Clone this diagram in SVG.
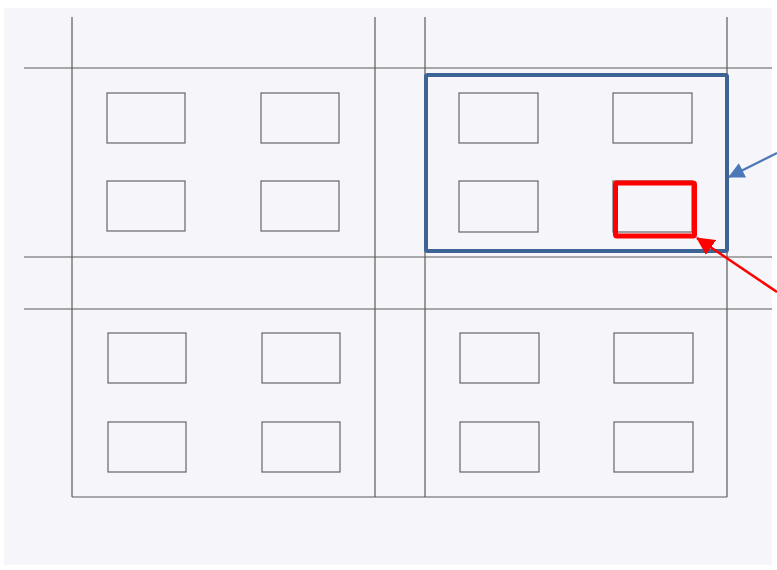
<svg xmlns="http://www.w3.org/2000/svg" width="777" height="570" viewBox="0 0 777 570">
<style>
.ln{stroke:#5a5a5a;stroke-width:1.2;fill:none}
.bx{stroke:#666;stroke-width:1.2;fill:none}
</style>
<defs>
<marker id="ab" markerUnits="userSpaceOnUse" markerWidth="16" markerHeight="16" refX="15" refY="8" orient="auto"><path d="M0,0 L16,8 L0,16 Z" fill="#4a78b8"/></marker>
<marker id="ar" markerUnits="userSpaceOnUse" markerWidth="18" markerHeight="18" refX="17" refY="9" orient="auto"><path d="M0,0 L18,9 L0,18 Z" fill="#ff0000"/></marker>
</defs>
<rect x="0" y="0" width="777" height="570" fill="#ffffff"/>
<rect x="4" y="8" width="768" height="557" fill="#f6f5f9"/>
<g id="grid">
<line class="ln" x1="72" y1="17" x2="72" y2="497"/>
<line class="ln" x1="375" y1="17" x2="375" y2="497"/>
<line class="ln" x1="425" y1="17" x2="425" y2="497"/>
<line class="ln" x1="727" y1="17" x2="727" y2="497"/>
<line class="ln" x1="24" y1="68" x2="772" y2="68"/>
<line class="ln" x1="24" y1="257" x2="772" y2="257"/>
<line class="ln" x1="24" y1="309" x2="772" y2="309"/>
<line class="ln" x1="72" y1="497" x2="727" y2="497"/>
</g>
<g id="b11"><rect class="bx" x="107" y="93" width="78" height="50"/></g>
<g id="b12"><rect class="bx" x="261" y="93" width="78" height="50"/></g>
<g id="b13"><rect class="bx" x="459" y="93" width="79" height="50"/></g>
<g id="b14"><rect class="bx" x="613" y="93" width="79" height="50"/></g>
<g id="b21"><rect class="bx" x="107" y="181" width="78" height="50"/></g>
<g id="b22"><rect class="bx" x="261" y="181" width="78" height="50"/></g>
<g id="b23"><rect class="bx" x="459" y="181" width="79" height="51"/></g>
<g id="b24"><rect class="bx" x="613" y="181" width="79" height="51"/></g>
<g id="b31"><rect class="bx" x="108" y="333" width="78" height="50"/></g>
<g id="b32"><rect class="bx" x="262" y="333" width="78" height="50"/></g>
<g id="b33"><rect class="bx" x="460" y="333" width="79" height="50"/></g>
<g id="b34"><rect class="bx" x="614" y="333" width="79" height="50"/></g>
<g id="b41"><rect class="bx" x="108" y="422" width="78" height="50"/></g>
<g id="b42"><rect class="bx" x="262" y="422" width="78" height="50"/></g>
<g id="b43"><rect class="bx" x="460" y="422" width="79" height="50"/></g>
<g id="b44"><rect class="bx" x="614" y="422" width="79" height="50"/></g>
<g id="blue-highlight"><rect x="426" y="75" width="301" height="176" rx="1.5" fill="none" stroke="#3d6494" stroke-width="4"/></g>
<g id="red-highlight"><rect x="615.5" y="183" width="79" height="53" rx="1.5" fill="none" stroke="#ff0000" stroke-width="5"/></g>
<g id="connectors">
<line x1="777" y1="153" x2="729" y2="177" stroke="#4a78b8" stroke-width="2.2" marker-end="url(#ab)"/>
<line x1="777" y1="292" x2="697" y2="238" stroke="#ff0000" stroke-width="2.5" marker-end="url(#ar)"/>
</g>
</svg>
